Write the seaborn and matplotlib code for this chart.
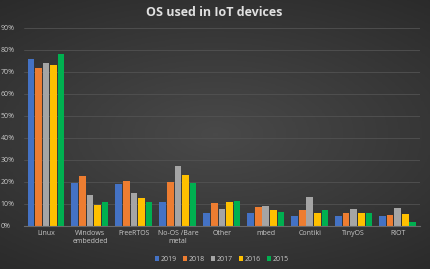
import numpy as np
import pandas as pd
import matplotlib
matplotlib.use("Agg")
import matplotlib.pyplot as plt
from matplotlib.ticker import PercentFormatter
import seaborn as sns

os_names = ["Linux", "Windows\nembedded", "FreeRTOS", "No-OS /Bare\nmetal", "Other",
            "mbed", "Contiki", "TinyOS", "RIOT"]
years = ["2019", "2018", "2017", "2016", "2015"]

# share of respondents (%) per year
share_2019 = [76, 19.7, 18.9, 10.9, 6.1, 5.9, 4.7, 4.7, 4.7]
share_2018 = [72, 22.7, 20.3, 19.8, 10.3, 8.6, 7.1, 5.9, 5.0]
share_2017 = [74, 14.1, 14.8, 27.4, 7.7, 8.9, 13.2, 7.7, 8.3]
share_2016 = [73.2, 9.5, 12.7, 23.0, 10.9, 7.1, 5.9, 5.9, 5.5]
share_2015 = [78.2, 11.0, 11.0, 19.7, 11.2, 6.5, 7.3, 5.9, 2.0]

colors = ["#4472C4", "#ED7D31", "#A5A5A5", "#FFC000", "#00B050"]
text_col = "#c8c8c8"

rows = []
for year, vals in zip(years, [share_2019, share_2018, share_2017, share_2016, share_2015]):
    for name, v in zip(os_names, vals):
        rows.append({"os": name, "year": year, "share": v})
df = pd.DataFrame(rows)

sns.set_theme(style="dark")
plt.rcParams["font.family"] = ["Open Sans", "DejaVu Sans"]

fig = plt.figure(figsize=(4.31, 2.69), dpi=100)
fig.patch.set_facecolor("#3a3a3a")

# soft radial background like the Office dark theme
bg = fig.add_axes([0, 0, 1, 1], zorder=-10)
yy, xx = np.mgrid[-1:1:200j, -1:1:300j]
r = np.sqrt((xx * 0.8) ** 2 + yy ** 2)
bg.imshow(-r, cmap=sns.dark_palette("#4e4e4e", as_cmap=True),
          aspect="auto", extent=[0, 1, 0, 1], vmin=-1.5, vmax=0.2)
bg.axis("off")

ax = fig.add_axes([0.0557, 0.160, 0.918, 0.736])
ax.set_facecolor("none")

sns.barplot(data=df, x="os", y="share", hue="year", hue_order=years,
            palette=colors, width=0.86, gap=0.12, saturation=1,
            linewidth=0, ax=ax)

ax.set_ylim(0, 90)
ax.set_yticks(np.arange(0, 91, 10))
ax.yaxis.set_major_formatter(PercentFormatter(decimals=0))
ax.grid(axis="y", color="#525252", linewidth=0.6)
ax.set_axisbelow(True)
for s in ["top", "right", "left"]:
    ax.spines[s].set_visible(False)
ax.spines["bottom"].set_color("#6a6a6a")
ax.spines["bottom"].set_linewidth(0.8)
ax.tick_params(axis="both", length=0, colors=text_col, labelsize=5, pad=3)
for lbl in ax.get_yticklabels():
    lbl.set_horizontalalignment("left")
ax.yaxis.set_tick_params(pad=17)
ax.set_xlabel("")
ax.set_ylabel("")
ax.set_xlim(-0.5, len(os_names) - 0.5)

fig.text(0.498, 0.955, "OS used in IoT devices", ha="center", va="center",
         color="#e0e0e0", fontsize=9, fontweight="bold")

leg = ax.legend(loc="center", bbox_to_anchor=(0.5, -0.17), ncol=5,
                frameon=False, fontsize=5, handlelength=0.6, handleheight=0.6,
                handletextpad=0.3, columnspacing=0.8)
for t in leg.get_texts():
    t.set_color(text_col)

fig.savefig("out.png", dpi=100, facecolor=fig.get_facecolor())
